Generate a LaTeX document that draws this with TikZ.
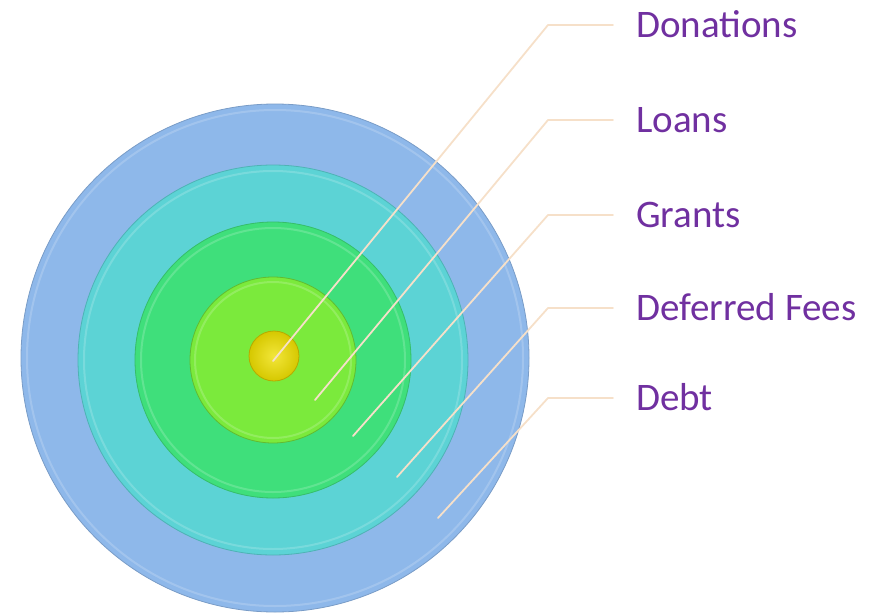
\documentclass[tikz,border=0pt]{standalone}
\usepackage{fontspec}
\setmainfont{Carlito}
\definecolor{ringA}{HTML}{8EB8EA}
\definecolor{ringB}{HTML}{5CD3D5}
\definecolor{ringC}{HTML}{3FDF7B}
\definecolor{ringD}{HTML}{7BEA3C}
\definecolor{ringE}{HTML}{D6C800}
\definecolor{ringEl}{HTML}{F2E63A}
\definecolor{leader}{HTML}{F6E0C9}
\definecolor{labelc}{HTML}{7030A0}
\tikzset{
  disk/.style={circle, inner sep=0pt, minimum size=#1},
  bevel/.style={white, opacity=0.18, line width=2pt},
  leaderline/.style={draw=leader, line width=1.8pt, line cap=round, line join=round},
  lab/.style={anchor=base west, inner sep=0pt, text=labelc, font=\fontsize{39}{39}\selectfont},
}
\begin{document}
\begin{tikzpicture}[x=1pt,y=-1pt]
\useasboundingbox (0,0) rectangle (875,613);
% rings
\node[disk=508pt, fill=ringA, draw=ringA!85!black, line width=0.8pt] (d1) at (275,358) {};
\draw[bevel] (275,358) circle (248);
\node[disk=390pt, fill=ringB, draw=ringB!85!black, line width=0.8pt] (d2) at (273,360) {};
\draw[bevel] (273,360) circle (189);
\node[disk=276pt, fill=ringC, draw=ringC!85!black, line width=0.8pt] (d3) at (273,360) {};
\draw[bevel] (273,360) circle (132);
\node[disk=166pt, fill=ringD, draw=ringD!80!black, line width=0.8pt] (d4) at (273,360) {};
\draw[bevel] (273,360) circle (78);
\node[disk=50pt, inner color=ringEl, outer color=ringE, draw=ringE!85!black, line width=0.8pt] (d5) at (274,356) {};
% start, bend points
\coordinate (s1) at (273,361); \coordinate (k1) at (548,25);
\coordinate (s2) at (315,400); \coordinate (k2) at (548,120);
\coordinate (s3) at (353,436); \coordinate (k3) at (548,215);
\coordinate (s4) at (397,477); \coordinate (k4) at (548,308);
\coordinate (s5) at (438,518); \coordinate (k5) at (548,398);
\coordinate (e1) at (613,25);
\coordinate (e2) at (613,120);
\coordinate (e3) at (613,215);
\coordinate (e4) at (613,308);
\coordinate (e5) at (613,398);
% labels
\node[lab] (l1) at (636,37) {Donations};
\node[lab] (l2) at (636,132) {Loans};
\node[lab] (l3) at (636,227) {Grants};
\node[lab] (l4) at (636,320) {Deferred Fees};
\node[lab] (l5) at (636,410) {Debt};
% leaders
\draw[leaderline] (s1) -- (k1) -- (e1);
\draw[leaderline] (s2) -- (k2) -- (e2);
\draw[leaderline] (s3) -- (k3) -- (e3);
\draw[leaderline] (s4) -- (k4) -- (e4);
\draw[leaderline] (s5) -- (k5) -- (e5);
\end{tikzpicture}
\end{document}
